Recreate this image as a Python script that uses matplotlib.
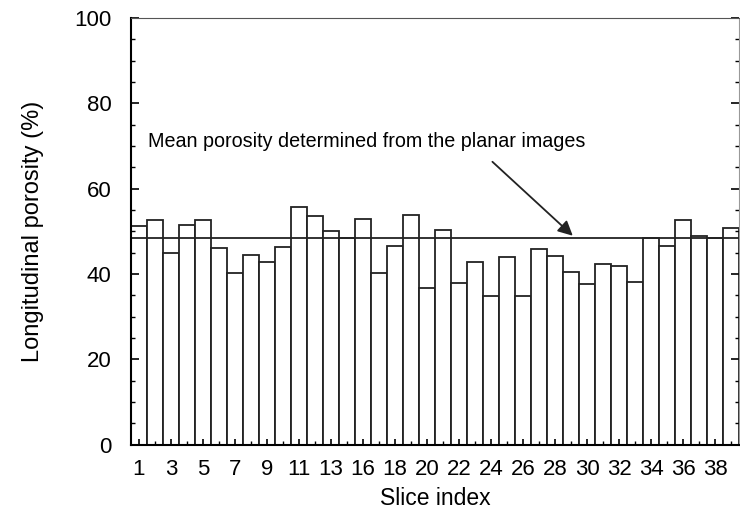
import matplotlib
matplotlib.use('Agg')
import matplotlib.pyplot as plt
from matplotlib.ticker import MultipleLocator

# data
porosity = [51.2, 52.8, 45.0, 51.6, 52.8, 46.1, 40.3, 44.5, 42.8, 46.3,
            55.8, 53.7, 50.1, 48.5, 52.9, 40.3, 46.6, 53.8, 36.8, 50.4,
            38.0, 42.8, 34.9, 43.9, 34.9, 45.8, 44.3, 40.4, 37.6, 42.3,
            41.9, 38.2, 48.5, 46.6, 52.7, 48.9, 48.4, 50.9]
tick_labels = ['1', '3', '5', '7', '9', '11', '13', '16', '18', '20', '22',
               '24', '26', '28', '30', '32', '34', '36', '38']
mean_porosity = 48.5

plt.rcParams['font.family'] = ['Liberation Sans', 'DejaVu Sans']

fig = plt.figure(figsize=(7.4, 5.19), dpi=100)
ax = fig.add_axes([0.177, 0.143, 0.822, 0.822])

pos = list(range(len(porosity)))
ax.bar(pos, porosity, width=1.0, color='white', edgecolor='#222222', linewidth=1.3)
ax.axhline(mean_porosity, color='#222222', linewidth=1.3)

ax.annotate('Mean porosity determined from the planar images',
            xy=(27.1, mean_porosity + 0.5), xytext=(0.55, 71.2),
            fontsize=14.2, va='center', ha='left',
            arrowprops=dict(arrowstyle='-|>', color='#222222', lw=1.3,
                            mutation_scale=22, shrinkA=9, shrinkB=0,
                            relpos=(0.76, 0.0)))

ax.set_xlim(-0.5, len(porosity) - 0.5)
ax.set_ylim(0, 100)
ax.set_xticks(pos[::2])
ax.set_xticklabels(tick_labels)
ax.set_xticks(pos, minor=True)
ax.yaxis.set_major_locator(MultipleLocator(20))
ax.yaxis.set_minor_locator(MultipleLocator(5))
ax.tick_params(axis='both', which='major', direction='in', labelsize=16,
               length=6, width=1.2, right=True)
ax.tick_params(axis='both', which='minor', direction='in', length=3,
               width=1.0, right=True)
ax.tick_params(axis='y', which='major', pad=14)
ax.tick_params(axis='x', which='major', length=4, pad=10)

ax.set_xlabel('Slice index', fontsize=16.5, labelpad=5)
ax.set_ylabel('Longitudinal porosity (%)', fontsize=17, labelpad=22)

for side in ['left', 'bottom']:
    ax.spines[side].set_linewidth(1.5)
ax.spines['top'].set_color('#555555')
ax.spines['right'].set_color('#999999')

plt.savefig('out.png', dpi=100)
